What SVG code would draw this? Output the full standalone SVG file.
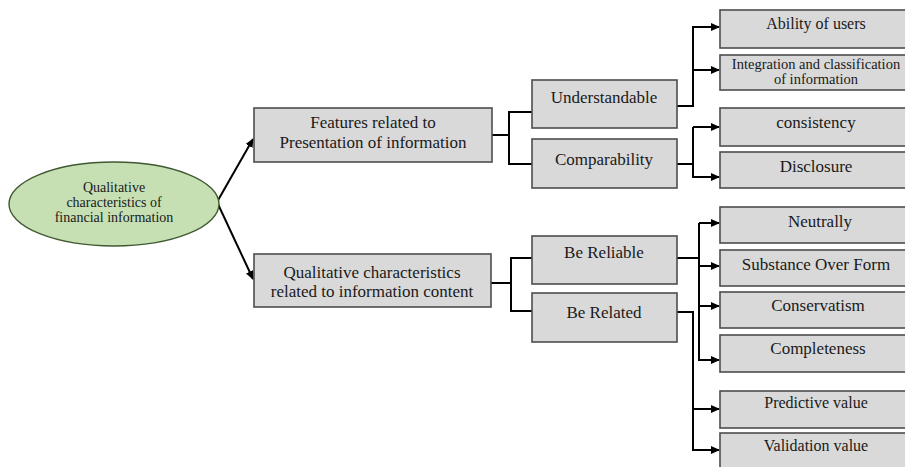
<svg xmlns="http://www.w3.org/2000/svg" width="905" height="467" viewBox="0 0 905 467">
<style>
.box{fill:#d9d9d9;stroke:#4d4d4d;stroke-width:1.6}
.ell{fill:#c6e0b4;stroke:#3f5a33;stroke-width:1.4}
text{font-family:'Liberation Serif','DejaVu Serif',serif;fill:#1a1a1a;text-anchor:middle}
.m{font-size:17px}
.s{font-size:16px}
.xs{font-size:14.5px}
.e{font-size:14px}
.c{fill:none;stroke:#000;stroke-width:2}
.a{marker-end:url(#arr)}
</style>
<defs>
<marker id="arr" markerUnits="userSpaceOnUse" markerWidth="9" markerHeight="8" refX="8" refY="4" orient="auto">
<path d="M0,0 L9,4 L0,8 z" fill="#000"/>
</marker>
</defs>
<rect width="905" height="467" fill="#fff"/>
<g id="connectors">
<path class="c a" d="M217,202 L253,139"/>
<path class="c a" d="M217,202 L253,279"/>
<path class="c" d="M492,135 H509"/>
<path class="c" d="M532,112 H509 V164 H532"/>
<path class="c" d="M491,283 H511"/>
<path class="c" d="M532,258 H511 V311 H532"/>
<path class="c a" d="M677,106 H693 V27 H719"/>
<path class="c a" d="M693,70 H719"/>
<path class="c" d="M677,164 H693"/>
<path class="c a" d="M693,127 H719"/>
<path class="c a" d="M693,127 V177 H719"/>
<path class="c" d="M677,258 H699"/>
<path class="c a" d="M699,223 H719"/>
<path class="c a" d="M699,266 H719"/>
<path class="c a" d="M699,306 H719"/>
<path class="c a" d="M699,223 V360 H719"/>
<path class="c a" d="M677,312 H693 V450 H719"/>
<path class="c a" d="M693,409 H719"/>
</g>
<g font-family="Liberation Serif, serif">
<g id="root">
<ellipse class="ell" cx="114" cy="204" rx="105" ry="42"/>
<text class="e" x="114" y="192">Qualitative</text>
<text class="e" x="114" y="207">characteristics of</text>
<text class="e" x="114" y="222">financial information</text>
</g>
<g id="presentation">
<rect class="box" x="254" y="108" width="238" height="54"/>
<text class="m" x="373" y="128">Features related to</text>
<text class="m" x="373" y="148">Presentation of information</text>
</g>
<g id="content">
<rect class="box" x="254" y="254" width="237" height="53"/>
<text class="m" x="372" y="278">Qualitative characteristics</text>
<text class="m" x="372" y="297">related to information content</text>
</g>
<g id="understandable">
<rect class="box" x="532" y="80" width="145" height="48"/>
<text class="m" x="604" y="103">Understandable</text>
</g>
<g id="comparability">
<rect class="box" x="532" y="139" width="145" height="49"/>
<text class="m" x="604" y="165">Comparability</text>
</g>
<g id="reliable">
<rect class="box" x="532" y="236" width="145" height="48"/>
<text class="m" x="604" y="258">Be Reliable</text>
</g>
<g id="related">
<rect class="box" x="532" y="293" width="145" height="49"/>
<text class="m" x="604" y="318">Be Related</text>
</g>
<g id="ability">
<rect class="box" x="720" y="10" width="190" height="38"/>
<text class="s" x="816" y="29">Ability of users</text>
</g>
<g id="integration">
<rect class="box" x="720" y="55" width="190" height="35"/>
<text class="xs" x="816" y="69">Integration and classification</text>
<text class="xs" x="816" y="84">of information</text>
</g>
<g id="consistency">
<rect class="box" x="720" y="108" width="190" height="38"/>
<text class="m" x="816" y="128">consistency</text>
</g>
<g id="disclosure">
<rect class="box" x="720" y="152" width="190" height="36"/>
<text class="m" x="816" y="172">Disclosure</text>
</g>
<g id="neutrally">
<rect class="box" x="720" y="207" width="190" height="36"/>
<text class="m" x="820" y="227">Neutrally</text>
</g>
<g id="substance">
<rect class="box" x="720" y="250" width="190" height="36"/>
<text class="m" x="816" y="270">Substance Over Form</text>
</g>
<g id="conservatism">
<rect class="box" x="720" y="292" width="190" height="36"/>
<text class="m" x="818" y="311">Conservatism</text>
</g>
<g id="completeness">
<rect class="box" x="720" y="335" width="190" height="37"/>
<text class="m" x="818" y="354">Completeness</text>
</g>
<g id="predictive">
<rect class="box" x="720" y="391" width="190" height="37"/>
<text class="s" x="816" y="408">Predictive value</text>
</g>
<g id="validation">
<rect class="box" x="720" y="433" width="190" height="40"/>
<text class="s" x="816" y="451">Validation value</text>
</g>
</g>
</svg>
